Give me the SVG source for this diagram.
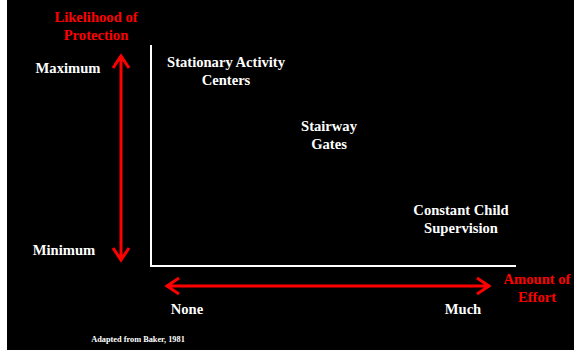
<svg xmlns="http://www.w3.org/2000/svg" width="574" height="350" viewBox="0 0 574 350">
<style>
text{font-family:"Liberation Serif","Times New Roman",serif;font-weight:bold;text-anchor:middle}
.w{fill:#fff;font-size:14.6px}
.r{fill:#f00;font-size:14.6px}
.ax{stroke:#fff;stroke-width:2;fill:none}
.ar{stroke:#f00;stroke-width:3;fill:none}
</style>
<rect x="0" y="0" width="574" height="350" fill="#000"/>
<rect x="0" y="0" width="7" height="350" fill="#fff"/>
<g id="connectors">
<path class="ax" d="M151,45 V266 H516"/>
<path class="ar" d="M121,57 V259 M113,68 L121,56 L129,68 M113,248 L121,260 L129,248"/>
<path class="ar" d="M168,286 H488 M179,278 L167,286 L179,294 M477,278 L489,286 L477,294"/>
</g>
<g id="y-label"><text class="r" x="96" y="22">Likelihood of</text><text class="r" x="96" y="40">Protection</text></g>
<g id="maximum"><text class="w" x="68" y="73">Maximum</text></g>
<g id="minimum"><text class="w" x="64" y="255">Minimum</text></g>
<g id="stationary"><text class="w" x="226" y="67">Stationary Activity</text><text class="w" x="226" y="85">Centers</text></g>
<g id="stairway"><text class="w" x="329" y="131">Stairway</text><text class="w" x="329" y="149">Gates</text></g>
<g id="supervision"><text class="w" x="461" y="215">Constant Child</text><text class="w" x="461" y="233">Supervision</text></g>
<g id="none"><text class="w" x="187" y="314">None</text></g>
<g id="much"><text class="w" x="463" y="314">Much</text></g>
<g id="x-label"><text class="r" x="537" y="284">Amount of</text><text class="r" x="537" y="302">Effort</text></g>
<g id="credit"><text class="w" x="138" y="342" style="font-size:8.3px">Adapted from Baker, 1981</text></g>
</svg>
